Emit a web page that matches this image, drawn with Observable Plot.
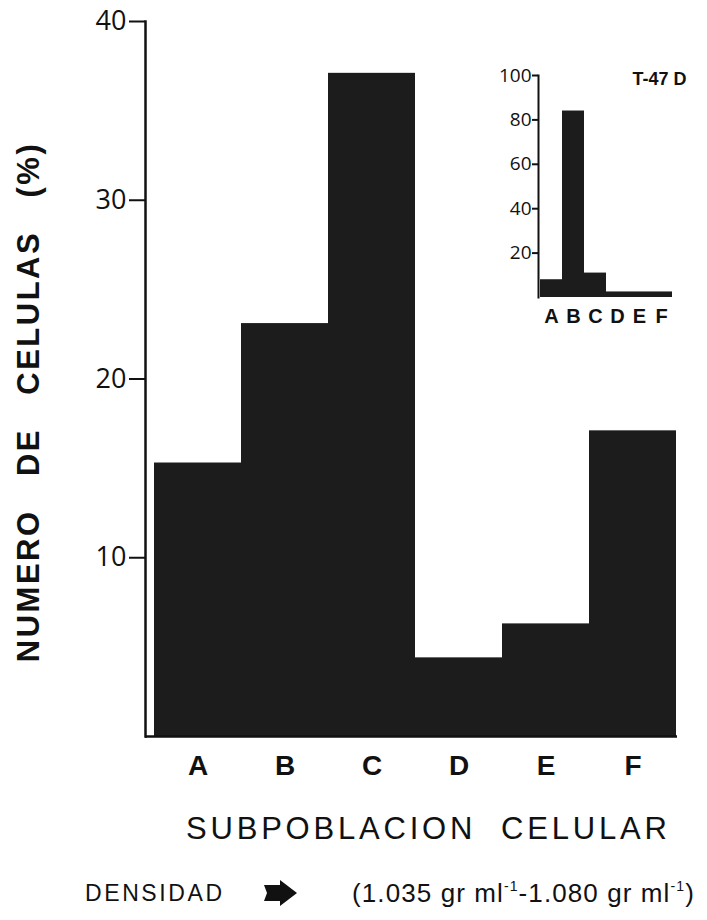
<!DOCTYPE html>
<html><head><meta charset="utf-8">
<script src="https://cdn.jsdelivr.net/npm/d3@7"></script>
<script src="https://cdn.jsdelivr.net/npm/@observablehq/plot@0.6"></script>
<style>
body{margin:0;background:#fff;}
#wrap{position:relative;width:707px;height:920px;overflow:hidden;background:#fff;}
#main,#inset{position:absolute;left:0;top:0;}
.cap{position:absolute;font-family:"Liberation Sans",Arial,sans-serif;color:#111;white-space:nowrap;line-height:1;}
#xt{left:186px;top:813px;font-size:31px;letter-spacing:3.8px;}
#dens{left:85px;top:882px;font-size:23px;letter-spacing:2.6px;}
#range{left:352px;top:879px;font-size:26px;letter-spacing:1.1px;}
#range sup{font-size:14px;vertical-align:11px;}
#arrow{position:absolute;left:262px;top:880px;}
.mainplot .ylab text{letter-spacing:2.5px;}
</style></head><body>
<div id="wrap">
<div id="main"></div>
<div id="inset"></div>
<div class="cap" id="xt"></div>
<div class="cap" id="dens"></div>
<svg id="arrow" width="36" height="26" viewBox="0 0 36 26"><polygon points="2,5 18,5 18,0 35,13 18,26 18,21 2,21 5,13" fill="#111"/></svg>
<div class="cap" id="range">(1.035 gr ml<sup>-1</sup>-1.080 gr ml<sup>-1</sup>)</div>
</div>
<script>
const categories = ["A", "B", "C", "D", "E", "F"];
const mainValues = [15.3, 23.1, 37.1, 4.4, 6.3, 17.1];
const mainTicks = [10, 20, 30, 40];
const insetValues = [8, 84, 11, 2.5, 2.5, 2.5];
const insetTicks = [20, 40, 60, 80, 100];
const insetTitle = "T-47 D";
const yLabel = "NUMERO\u00a0\u00a0\u00a0DE\u00a0\u00a0\u00a0CELULAS\u00a0\u00a0\u00a0(%)";
const xTitle = "SUBPOBLACION\u00a0\u00a0CELULAR";
const densLabel = "DENSIDAD";

document.getElementById("xt").textContent = xTitle;
document.getElementById("dens").textContent = densLabel;

const mainData = categories.map((c, i) => ({cat: c, value: mainValues[i]}));
const insetData = categories.map((c, i) => ({cat: c, value: insetValues[i]}));

const H = 790;
const main = Plot.plot({
  width: 707, height: H,
  className: "mainplot",
  marginTop: 21, marginBottom: H - 736, marginLeft: 145, marginRight: 30,
  style: {background: "white", color: "#111", overflow: "visible"},
  x: {domain: categories, range: [153, 677], padding: 0, axis: null},
  y: {domain: [0, 40], axis: null},
  marks: [
    Plot.barY(mainData, {x: "cat", y: "value", fill: "#1c1c1c"}),
    Plot.frame({anchor: "left", stroke: "#111", strokeWidth: 2.5}),
    Plot.ruleY([0], {stroke: "#111", strokeWidth: 2.5}),
    Plot.axisY({ticks: mainTicks, label: null, tickSize: 16, tickPadding: 3, fontSize: 27, fontFamily: "Open Sans", strokeWidth: 2, tickFormat: d => String(d)}),
    Plot.axisX({label: null, tickSize: 0, tickPadding: 19, fontSize: 28, fontWeight: "bold", fontFamily: "Liberation Sans"}),
    Plot.text([yLabel], {className: "ylab", frameAnchor: "left", textAnchor: "middle", rotate: -90, dx: -116, dy: 23, fontSize: 31, fontWeight: "bold", fontFamily: "Liberation Sans", fill: "#111"})
  ]
});
document.getElementById("main").appendChild(main);

const inset = Plot.plot({
  width: 707, height: 340,
  marginTop: 75, marginBottom: 43, marginLeft: 538, marginRight: 35,
  style: {background: "transparent", color: "#111", overflow: "visible"},
  x: {domain: categories, range: [539, 672], padding: 0, axis: null},
  y: {domain: [0, 100], axis: null},
  marks: [
    Plot.barY(insetData, {x: "cat", y: "value", fill: "#1c1c1c"}),
    Plot.frame({anchor: "left", stroke: "#111", strokeWidth: 2}),
    Plot.axisY({ticks: insetTicks, label: null, tickSize: 6, tickPadding: 1, fontSize: 19, fontFamily: "Open Sans", strokeWidth: 2, tickFormat: d => String(d)}),
    Plot.axisX({label: null, tickSize: 0, tickPadding: 11, fontSize: 20, fontWeight: "bold", fontFamily: "Liberation Sans"}),
    Plot.text([insetTitle], {frameAnchor: "top-left", textAnchor: "start", lineAnchor: "middle", dx: 94, dy: 4, fontSize: 18, fontWeight: "bold", fontFamily: "Liberation Sans", fill: "#111"})
  ]
});
document.getElementById("inset").appendChild(inset);
</script>
</body></html>
